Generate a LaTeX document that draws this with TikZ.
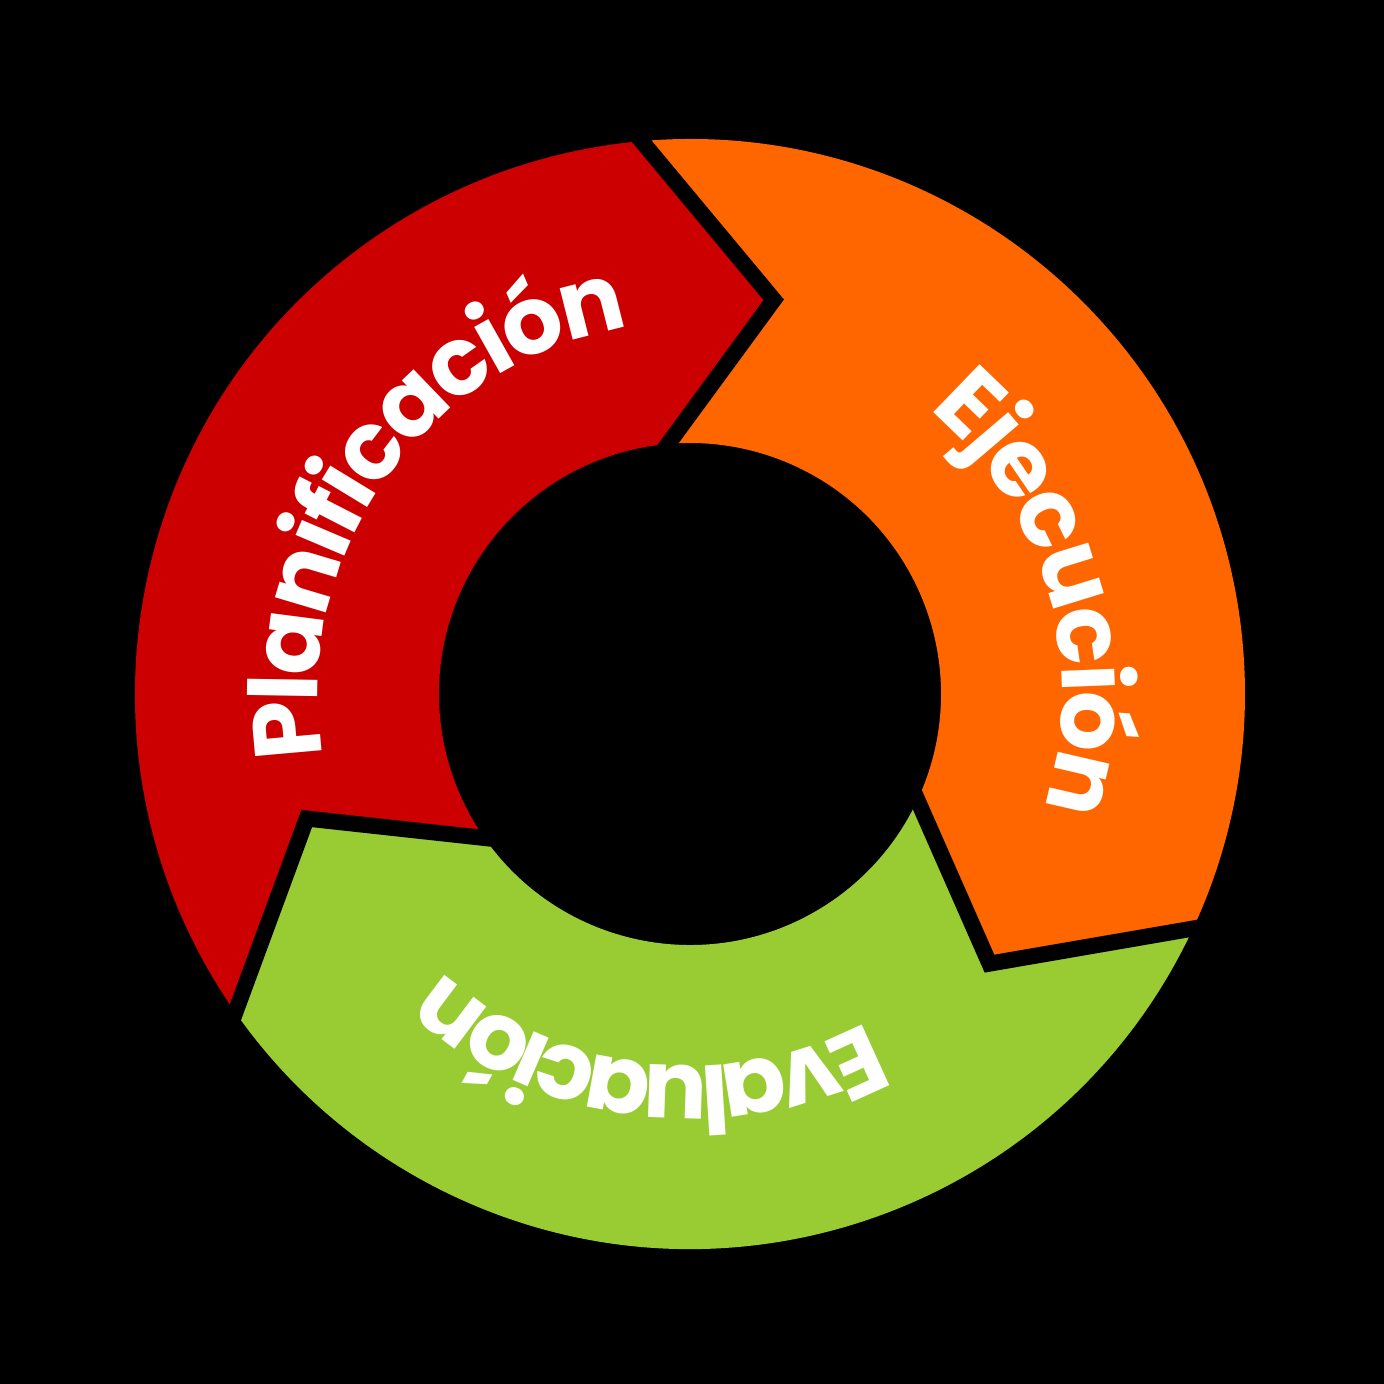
\documentclass[tikz,border=0pt]{standalone}
\usepackage{fontspec}
\newfontfamily\popfont{Poppins}
\usetikzlibrary{calc,decorations.text}
\definecolor{cRed}{RGB}{204,0,0}
\definecolor{cOrange}{RGB}{255,102,0}
\definecolor{cGreen}{RGB}{153,204,51}
\tikzset{
  gapline/.style={draw=black, line width=0.16cm, line join=miter, miter limit=20},
  labelfont/.style={font=\popfont\bfseries\fontsize{27}{30}\selectfont},
  ringlabel/.style 2 args={labelfont, decorate, decoration={text effects along path,
      text={#1}, text align=center,
      text effects/.cd, text along path,
      characters={text=white, labelfont},
      character widths={labelfont, inner xsep=#2}}}
}
\begin{document}
\begin{tikzpicture}[x=0.01cm,y=0.01cm]
\useasboundingbox (-690,-690) rectangle (694,694);
\fill[black] (-690,-690) rectangle (694,694);
% boundary points
\coordinate (oA) at (95:555);  \coordinate (tA) at (78:403);  \coordinate (iA) at (95:251);
\coordinate (oB) at (-25:555); \coordinate (tB) at (-42:403); \coordinate (iB) at (-25:251);
\coordinate (oC) at (215:555); \coordinate (tC) at (198:403); \coordinate (iC) at (215:251);
% segments
\fill[cRed] (oC) arc[start angle=215, end angle=95, radius=555] -- (tA) -- (iA)
  arc[start angle=95, end angle=215, radius=251] -- (tC) -- cycle;
\fill[cOrange] (oA) arc[start angle=95, end angle=-25, radius=555] -- (tB) -- (iB)
  arc[start angle=-25, end angle=95, radius=251] -- (tA) -- cycle;
\fill[cGreen] (oB) arc[start angle=335, end angle=215, radius=555] -- (tC) -- (iC)
  arc[start angle=215, end angle=335, radius=251] -- (tB) -- cycle;
% separating gaps
\draw[gapline] ($(tA)!1.25!(oA)$) -- (tA) -- ($(tA)!1.25!(iA)$);
\draw[gapline] ($(tB)!1.25!(oB)$) -- (tB) -- ($(tB)!1.25!(iB)$);
\draw[gapline] ($(tC)!1.25!(oC)$) -- (tC) -- ($(tC)!1.25!(iC)$);
% labels
\path[ringlabel={Planificación}{-0.6pt}] (214.5:372) arc[start angle=214.5, end angle=74.5, radius=372];
\path[ringlabel={Ejecución}{-0.5pt}] (66:372) arc[start angle=66, end angle=-34, radius=372];
\path[ringlabel={Evaluación}{-1.35pt}] (-46.75:372) arc[start angle=-46.75, end angle=-146.75, radius=372];
\end{tikzpicture}
\end{document}
